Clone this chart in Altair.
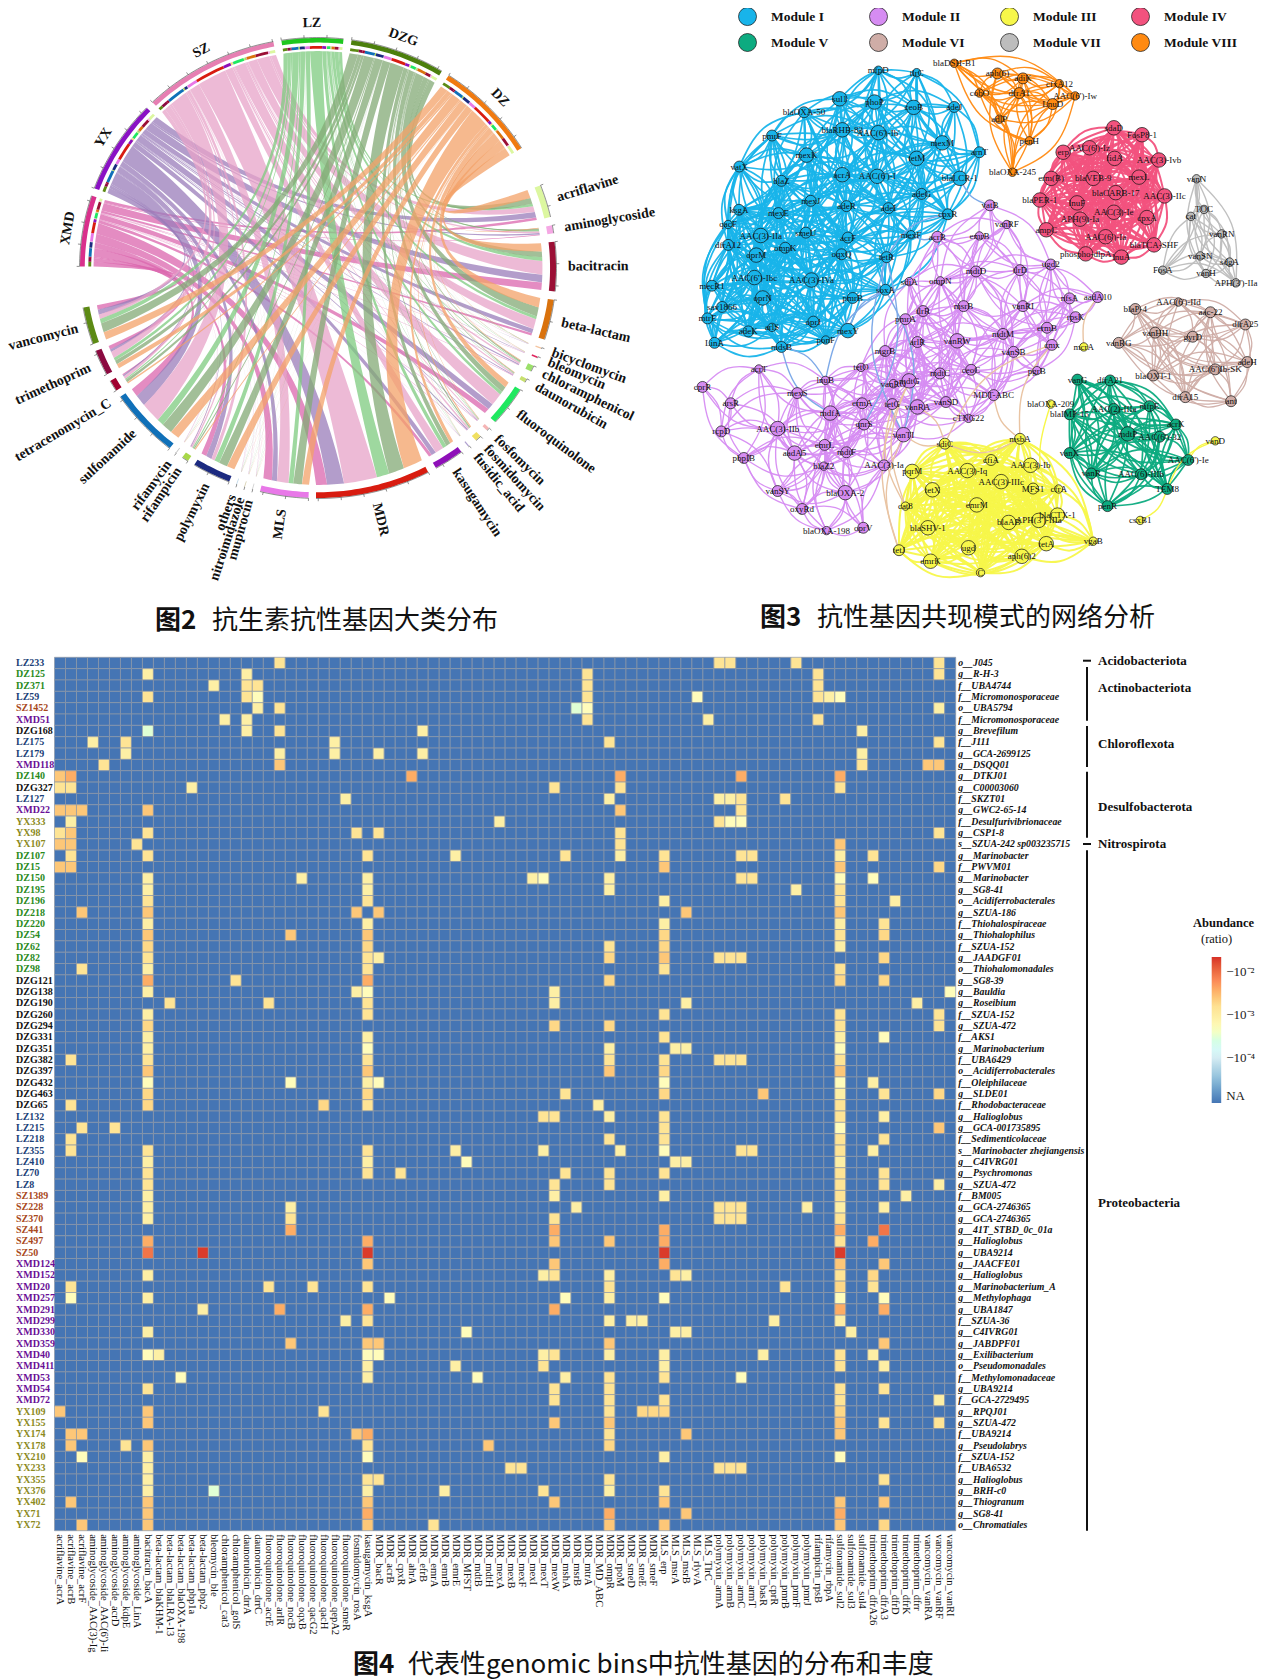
import math
import altair as alt

SERIF = "Liberation Serif"
CJK = "Noto Sans CJK SC"
W, H = 1253, 1671
OFF = 8

# ---------------- Figure 2: chord values ----------------
sites = ["XMD", "YX", "SZ", "LZ", "DZG", "DZ"]
site_widths = [17.9, 23.8, 33.2, 15.0, 23.2, 25.4]
site_colors = ["#d9308c", "#8a12c4", "#e67fb2", "#1fc71f", "#4c7f0d", "#f07a10"]
ribbon_colors = ["#db65ae", "#9a7cba", "#e7a3c8", "#7ecb7f", "#83aa76", "#f3a168"]
cats = ["acriflavine", "aminoglycoside", "bacitracin", "beta-lactam", "bicyclomycin", "bleomycin",
        "chloramphenicol", "daunorubicin", "fluoroquinolone", "fosfomycin", "fosmidomycin", "fusidic_acid",
        "kasugamycin", "MDR", "MLS", "mupirocin", "nitroimidazole", "others", "polymyxin", "rifampicin",
        "rifamycin", "sulfonamide", "tetracenomycin_C", "trimethoprim", "vancomycin"]
cat_colors = ["#dcf7a0", "#f5a8e4", "#9b0f35", "#d9720d", "#f5c5a0", "#e02860", "#9be06a", "#c8e070",
              "#20e860", "#f5b5b5", "#f0e060", "#b0a0d0", "#8e10b8", "#d81c10", "#e878e8", "#d0d0d0",
              "#d8d0b0", "#c0d8e8", "#1c2a80", "#a8d848", "#c0c0c0", "#1070b8", "#a00030", "#8b0a40", "#5c8a14"]
flow_DZ = [2.2, .2, 2.2, 2.5, .05, .05, .2, .1, 1.5, .1, .3, .05, .9, 5, 1.8, .03, .03, .03, 2, .3, .03, 2.4, .4, 1.2, 2]
flow_DZG = [1.6, .4, 1.5, 2.4, .05, .05, .3, .2, 1.5, .1, .3, .05, 1.2, 4, 2.2, .03, .03, .03, 2.2, .3, .03, 2.8, .7, 1, 2.4]
flow_LZ = [.7, .3, 1, .8, .05, .05, .2, .1, .8, .1, .1, .05, 1, 3.2, 1.2, .03, .03, .03, 1.3, .3, .03, 1.8, .3, .8, 1.2]
flow_SZ = [1.5, .5, 3.6, 2.6, .08, .1, .4, .3, 3.2, .25, .4, .05, 2.2, 8.5, 3, .05, .05, .05, .9, .4, .05, 5.2, .7, 1.7, 1.2]
flow_YX = [1.5, .4, 2, 1.2, .05, .1, .3, .2, 1.6, .15, .3, .05, 1.2, 4.3, 1.3, .03, .03, .03, 1.5, .2, .03, 3, .4, .7, 1.3]
flow_XMD = [.7, .2, 2, .6, .03, .05, .1, .1, 1.4, .1, .1, .05, .8, 2.8, 2.2, .03, .03, .03, 1.4, .1, .03, 2.2, .3, 1, 1.2]
flows = {"XMD": flow_XMD, "YX": flow_YX, "SZ": flow_SZ, "LZ": flow_LZ, "DZG": flow_DZG, "DZ": flow_DZ}

CX, CY, RX, RY = 318, 268, 238, 230
ASP = RY / RX
START, BIG_GAP = 270.4, 10.3
SITE_GAP, CAT_GAP_A, CAT_GAP_B = 1.95, 2.1, 1.8
label_nudge = {"tetracenomycin_C": -3.0}
label_radius = {"vancomycin": 1.042}


def pt(a, r):
    t = math.radians(a)
    return [round(r * math.sin(t), 4), round(r * math.cos(t) * ASP, 4)]


def arc(a0, a1, r):
    n = max(2, int(abs(a1 - a0)) + 2)
    return [pt(a0 + (a1 - a0) * i / (n - 1), r) for i in range(n)]


def ring(a0, a1, r0, r1):
    p = arc(a0, a1, r1) + arc(a1, a0, r0)
    return p + [p[0]]


def bez(p0, p1):
    c = [(p0[0] + p1[0]) * 0.12, (p0[1] + p1[1]) * 0.12]
    out = []
    for i in range(1, 24):
        t = i / 24
        out.append([round((1 - t) ** 2 * p0[j] + 2 * t * (1 - t) * c[j] + t * t * p1[j], 4) for j in (0, 1)])
    return out


site_tot = {s: sum(flows[s]) for s in sites}
site_k = {s: w / site_tot[s] for s, w in zip(sites, site_widths)}
cat_tot = {c: sum(flows[s][i] for s in sites) for i, c in enumerate(cats)}
cat_gaps = [CAT_GAP_A if i < 13 else CAT_GAP_B for i in range(len(cats) - 1)]
gap_sum = 5 * SITE_GAP + sum(cat_gaps) + 2 * BIG_GAP
k_cat = (360 - sum(site_widths) - gap_sum) / sum(cat_tot.values())

sec = {}
a = START
for s, w in zip(sites, site_widths):
    sec[s] = (a, a + w)
    a += w + SITE_GAP
a += BIG_GAP - SITE_GAP
for i, c in enumerate(cats):
    sec[c] = (a, a + cat_tot[c] * k_cat)
    a += cat_tot[c] * k_cat + (cat_gaps[i] if i < len(cat_gaps) else 0)

RIN = 0.943
site_seg = {}
seg_features = []
for si, s in enumerate(sites):
    p = sec[s][0]
    for ci in reversed(range(len(cats))):
        w = flows[s][ci] * site_k[s]
        site_seg[(s, ci)] = (p, p + w)
        seg_features.append({"type": "Feature", "properties": {"c": cat_colors[ci]},
                             "geometry": {"type": "Polygon", "coordinates": [ring(p, p + w, 0.953, 0.965)]}})
        p += w
cat_seg = {}
for ci, c in enumerate(cats):
    p = sec[c][0]
    for s in reversed(sites):
        w = flows[s][ci] * k_cat
        cat_seg[(s, ci)] = (p, p + w)
        p += w

ribbons = []
for s in sites:
    for ci in range(len(cats)):
        s0, s1 = site_seg[(s, ci)]
        c0, c1 = cat_seg[(s, ci)]
        poly = arc(s0, s1, RIN) + bez(pt(s1, RIN), pt(c0, RIN)) + arc(c0, c1, RIN) + bez(pt(c1, RIN), pt(s0, RIN))
        poly.append(poly[0])
        ribbons.append({"type": "Feature", "properties": {"site": s},
                        "geometry": {"type": "Polygon", "coordinates": [poly]}})

band_features, tick_features = [], []
for i, name in enumerate(sites + cats):
    a0, a1 = sec[name]
    col = (site_colors + cat_colors)[i]
    inner = 0.98 if name in sites else 0.975
    band_features.append({"type": "Feature", "properties": {"c": col},
                          "geometry": {"type": "Polygon", "coordinates": [ring(a0, a1, inner, 1.0)]}})
    tick_features.append({"type": "Feature", "properties": {},
                          "geometry": {"type": "LineString", "coordinates": arc(a0, a1, 1.002)}})
    t = a0
    while t <= a1 + 0.01:
        tick_features.append({"type": "Feature", "properties": {},
                              "geometry": {"type": "LineString", "coordinates": [pt(t, 1.002), pt(t, 1.014)]}})
        t += 5.5

proj = dict(type="identity", reflectY=True, scale=RX, translate=[CX - OFF, CY - OFF])
ribbon_layer = alt.Chart(alt.Data(values=ribbons)).mark_geoshape(fillOpacity=0.75, strokeWidth=0).encode(
    color=alt.Color("properties.site:N", scale=alt.Scale(domain=sites, range=ribbon_colors), legend=None)
).project(**proj)
seg_layer = alt.Chart(alt.Data(values=seg_features)).mark_geoshape(strokeWidth=0).encode(
    color=alt.Color("properties.c:N", scale=None)).project(**proj)
band_layer = alt.Chart(alt.Data(values=band_features)).mark_geoshape(strokeWidth=0).encode(
    color=alt.Color("properties.c:N", scale=None)).project(**proj)
tick_layer = alt.Chart(alt.Data(values=tick_features)).mark_geoshape(
    filled=False, stroke="#222222", strokeWidth=0.5).project(**proj)

chord_x = alt.Scale(domain=[-1.4, 1.4], range=[CX - OFF - 1.4 * RX, CX - OFF + 1.4 * RX], nice=False)
chord_y = alt.Scale(domain=[-1.4, 1.4], range=[CY - OFF + 1.4 * RX, CY - OFF - 1.4 * RX], nice=False)
lab_left, lab_right, lab_mid = [], [], []
for s in sites:
    m = (sum(sec[s]) / 2) % 360
    p = pt(m, 1.065)
    lab_mid.append({"t": s, "x": p[0], "y": p[1], "rot": (m if m < 90 else m - 360) % 360})
for c in cats:
    m = (sum(sec[c]) / 2) % 360
    rot_side = m - 90 if m < 180 else m - 270
    m = m + label_nudge.get(c, 0.0)
    p = pt(m, label_radius.get(c, 1.05))
    if c in ("MDR", "MLS"):
        p2 = pt(m, 1.125)
        lab_mid.append({"t": c, "x": p2[0], "y": p2[1], "rot": rot_side % 360})
    elif m < 180:
        lab_right.append({"t": c, "x": p[0], "y": p[1], "rot": rot_side % 360})
    else:
        lab_left.append({"t": c, "x": p[0], "y": p[1], "rot": rot_side % 360})


def chord_text(rows, align):
    return alt.Chart(alt.Data(values=rows)).mark_text(
        font=SERIF, fontWeight="bold", fontSize=14, align=align, baseline="middle", color="#111111").encode(
        x=alt.X("x:Q", scale=chord_x, axis=None), y=alt.Y("y:Q", scale=chord_y, axis=None),
        angle=alt.Angle("rot:Q", scale=None), text="t:N")


# ---------------- Figure 3: network ----------------
modules = ["Module I", "Module II", "Module III", "Module IV", "Module V", "Module VI", "Module VII", "Module VIII"]
module_colors = ["#18b4ea", "#d68cf2", "#f7f74a", "#f2527e", "#0dab80", "#cfada7", "#bdbdbd", "#ff8a12"]
nodes_I = [("mfpD", 528, 172, 1), ("tlrC", 630, 178, 1), ("sul1", 425, 242, 3), ("phoP", 518, 250, 3), ("ceoB", 622, 263, 3),
           ("adeJ", 730, 262, 2), ("blaOXA-50", 330, 275, 2), ("blaRHB-83", 432, 318, 3), ("AAC(6')-Ib'", 528, 325, 3),
           ("pmrF", 245, 332, 2), ("mexM", 698, 350, 3), ("arnT", 797, 373, 2), ("mexK", 337, 380, 3), ("tetM", 630, 388, 3),
           ("acrA", 432, 428, 3), ("AAC(6')-I", 525, 432, 3), ("blaLCR-1", 745, 437, 3), ("vatX", 158, 408, 2),
           ("blaZ", 270, 443, 2), ("adeG", 643, 475, 2), ("mexJ", 348, 492, 2), ("adeR", 443, 505, 2), ("adeI", 555, 510, 2),
           ("cpxR", 713, 525, 2), ("ksgA", 157, 514, 2), ("mexE", 262, 522, 2), ("qacF", 128, 550, 1),
           ("AAC(3)-IIa", 215, 577, 3), ("smeU", 335, 570, 2), ("acrF", 447, 582, 2), ("dfrA12", 128, 600, 2),
           ("mexF", 615, 575, 1), ("ompK", 280, 607, 2), ("oprM", 203, 625, 3), ("oqxQ", 430, 623, 2), ("tetR", 550, 630, 2),
           ("AAC(6')-Ibc", 198, 680, 3), ("AAC(3)-IVa", 350, 686, 3), ("mecR1", 85, 700, 2), ("oprN", 220, 730, 3),
           ("pmrB", 460, 730, 2), ("soxA", 547, 710, 2), ("sav1866", 112, 752, 2), ("mtrE", 73, 780, 2), ("oprJ", 355, 788, 2),
           ("mexY", 447, 810, 3), ("adeK", 182, 812, 2), ("arlS", 245, 802, 1), ("ponF", 388, 833, 1), ("LinA", 92, 840, 2),
           ("mdsB", 270, 850, 2)]
nodes_II = [("vatB", 825, 503, 2), ("vanRF", 870, 550, 1), ("acrB", 685, 580, 2), ("emrB", 797, 578, 1), ("sdiA", 610, 690, 1),
            ("ompN", 693, 688, 1), ("mdtD", 788, 665, 2), ("tlrD", 905, 662, 2), ("ugd2", 987, 648, 2), ("tlrR", 647, 762, 2),
            ("msrB", 755, 750, 2), ("vanRI", 913, 750, 2), ("nfsA", 1037, 731, 2), ("aadA10", 1112, 728, 2), ("pmrA", 600, 782, 2),
            ("rpsK", 1053, 777, 2), ("arlR", 632, 838, 2), ("vanRW", 738, 835, 3), ("mdtM", 860, 818, 2), ("ermB", 977, 803, 2),
            ("cmx", 990, 845, 2), ("mgrB", 546, 860, 2), ("vanSB", 888, 862, 2), ("mdtC", 692, 915, 2), ("ceoC", 775, 906, 2),
            ("pgrB", 950, 908, 1), ("tetO", 482, 900, 1), ("lnuB", 387, 932, 1), ("acrT", 210, 904, 1), ("cprR", 60, 948, 2),
            ("mdtG", 610, 933, 3), ("vanRO", 568, 940, 1), ("mexS", 312, 963, 2), ("arsR", 135, 988, 2), ("ermA", 485, 988, 2),
            ("tetG", 565, 990, 2), ("vanRA", 632, 997, 3), ("vanSD", 708, 985, 2), ("MDT-ABC", 835, 968, 2), ("mdfA", 400, 1012, 3),
            ("cTNG22", 768, 1025, 1), ("qnrS", 490, 1040, 2), ("AAC(3)-IIb", 260, 1050, 3), ("rcpD", 110, 1057, 2),
            ("vanTI", 595, 1065, 3), ("emrL", 385, 1090, 2), ("mdtF", 443, 1108, 2), ("aadA5", 305, 1110, 3), ("pbpIB", 170, 1122, 2),
            ("blaZ2", 383, 1142, 1), ("AAC(3)-Ia", 543, 1140, 2), ("vanSY", 260, 1203, 2), ("blaOXA-2", 440, 1207, 3),
            ("oxyRd", 325, 1247, 2), ("blaOXA-198", 390, 1300, 1), ("oprV", 488, 1293, 2)]
nodes_III = [("mcrA", 1075, 850, 1), ("blaOXA-209", 987, 990, 1), ("sdiC", 705, 1087, 2), ("msbA", 905, 1075, 2), ("cfiA", 828, 1127, 2),
             ("pqrM", 618, 1155, 3), ("AAC(3)-Iq", 765, 1153, 3), ("AAC(3)-Ib", 933, 1140, 3), ("AAC(3)-IIIc", 855, 1180, 3),
             ("tetX", 672, 1200, 3), ("MFS1", 940, 1197, 2), ("cfrA", 1008, 1198, 1), ("emrM", 790, 1237, 3), ("cat8", 600, 1240, 1),
             ("blaSHV-1", 660, 1293, 3), ("blaAB", 875, 1280, 3), ("APH(3')-IIIa", 955, 1275, 3), ("blaCTX-1", 1005, 1262, 3),
             ("tetA", 975, 1332, 3), ("vgaB", 1100, 1326, 1), ("ugd", 768, 1342, 3), ("tetJ", 583, 1348, 2), ("emrK", 667, 1375, 3),
             ("aph(6)2", 910, 1363, 3), ("C", 800, 1403, 1), ("vanD", 1425, 1080, 1), ("csxB1", 1225, 1275, 1)]
nodes_IV = [("sdaD", 1155, 313, 3), ("FosP8-1", 1230, 330, 3), ("AAC(6')-Iz", 1090, 362, 3), ("erp", 1020, 373, 3), ("fidA", 1157, 388, 3),
            ("AAC(3)-Ivb", 1275, 392, 3), ("erm(B)", 988, 437, 3), ("blaVEB-9", 1100, 437, 3), ("mexL", 1222, 434, 3),
            ("blaCARB-17", 1160, 472, 3), ("AAC(3)-IIc", 1290, 480, 3), ("blaPER-1", 958, 490, 3), ("lnuF", 1057, 497, 3),
            ("AAC(3)-Ie", 1155, 520, 3), ("cpxA", 1243, 533, 3), ("APH(9)-Ia", 1065, 537, 3), ("ampC", 975, 563, 3),
            ("AAC(6')-Ia", 1133, 580, 3), ("blaTCA-SHF", 1262, 600, 3), ("phospho-dlpA", 1080, 622, 3), ("lnuA", 1175, 630, 3)]
nodes_V = [("vanG", 1058, 930, 2), ("dfrA21", 1145, 932, 2), ("AAC(2)-IIIa", 1155, 1002, 2), ("mfpE", 1250, 995, 2),
           ("blaIMP-15", 1037, 1015, 2), ("acrK", 1320, 1040, 2), ("mdtP", 1192, 1063, 3), ("AAC(6')-32", 1277, 1070, 2),
           ("vanX", 1037, 1110, 2), ("AAC(6')-Ie", 1353, 1127, 2), ("vanR", 1095, 1160, 2), ("AAC(6)-IIIb", 1227, 1162, 2),
           ("TEM8", 1297, 1198, 2), ("penR", 1138, 1240, 2)]
nodes_VI = [("blaP-4", 1212, 757, 2), ("AAC(6')-IId", 1327, 740, 1), ("aac-22", 1412, 765, 2), ("dfrA25", 1505, 795, 2), ("vanHH", 1265, 815, 2),
            ("gyrD", 1365, 825, 2), ("vanRG", 1168, 840, 2), ("adeH", 1510, 887, 2), ("blaOXT-1", 1260, 920, 2),
            ("AAC(6')Ib-SK", 1425, 905, 2), ("dfrA15", 1345, 973, 2), ("ant", 1467, 983, 2)]
nodes_VII = [("vanN", 1375, 438, 1), ("TOC", 1395, 513, 1), ("cat", 1360, 530, 1), ("vanRN", 1442, 573, 1), ("vanSN", 1385, 627, 1),
             ("sdgA", 1463, 642, 1), ("FosA", 1285, 662, 1), ("vanH", 1400, 670, 1), ("APH(3')-IIa", 1480, 693, 1)]
nodes_VIII = [("blaDSH-B1", 730, 155, 1), ("aph(6)", 845, 180, 2), ("adiK", 913, 192, 2), ("cfxA12", 1010, 205, 1), ("cobO", 797, 228, 1),
              ("dfrA1", 903, 228, 2), ("AAC(6')-Iw", 1052, 235, 1), ("LnuD", 992, 255, 2), ("adlP", 850, 292, 1), ("penH", 930, 345, 1),
              ("blaOXA-245", 885, 422, 1)]
node_groups = [nodes_I, nodes_II, nodes_III, nodes_IV, nodes_V, nodes_VI, nodes_VII, nodes_VIII]
link_reach = [300, 240, 420, 600, 420, 350, 500, 400]
link_width = [1.7, 1.35, 2.0, 2.0, 1.7, 1.3, 1.4, 1.4]
outlying_nodes = {"mcrA", "blaOXA-209", "vanD", "csxB1"}
periwinkle_links = [("tetR", "soxA"), ("tetR", "vanTI"), ("soxA", "lnuB"), ("mdsB", "mdfA"), ("blaLCR-1", "vatB"), ("mexF", "acrB"),
                    ("lnuB", "mdsB"), ("soxA", "mexY"), ("soxA", "sdiA"), ("cpxR", "tetR"), ("qnrS", "tetR"), ("vanTI", "soxA")]
beige_links = [("vanTI", "sdiC"), ("sdiC", "msbA"), ("cmx", "msbA"), ("MDT-ABC", "msbA"), ("mdtG", "cat8"), ("vanTI", "tetJ"),
               ("aadA10", "mcrA"), ("sdiC", "vanRA"), ("cmx", "sdiC"), ("mdtG", "tetJ"), ("tetG", "cat8")]
yellow_links = [("vanD", "AAC(6')-Ie"), ("csxB1", "TEM8"), ("blaOXA-209", "blaCTX-1"), ("vanD", "TEM8")]

node_rows = []
pos = {}
for m, grp in zip(modules, node_groups):
    for name, x, y, tier in grp:
        node_rows.append({"name": name, "x": x, "y": y, "module": m, "d": {1: 70, 2: 120, 3: 210}[tier]})
        pos[name] = (x, y)


def curve_rows(eid, p, q, bend, **extra):
    dx, dy = q[0] - p[0], q[1] - p[1]
    mid = ((p[0] + q[0]) / 2 - dy * bend, (p[1] + q[1]) / 2 + dx * bend)
    return [dict(e=eid, i=i, x=c[0], y=c[1], **extra) for i, c in enumerate((p, mid, q))]


edge_rows = {w: [] for w in set(link_width)}
eid = 0
for mi, (m, grp) in enumerate(zip(modules, node_groups)):
    for i in range(len(grp)):
        for j in range(i + 1, len(grp)):
            if grp[i][0] in outlying_nodes or grp[j][0] in outlying_nodes:
                continue
            p, q = grp[i][1:3], grp[j][1:3]
            if math.dist(p, q) <= link_reach[mi]:
                bend = 0.16 if (i + j) % 2 else -0.16
                edge_rows[link_width[mi]] += curve_rows(eid, p, q, bend, module=m)
                eid += 1
cross_rows = []
for col, links in (("#7eaae8", periwinkle_links), ("#e9c4a3", beige_links), ("#f7f74a", yellow_links)):
    for u, v in links:
        cross_rows += curve_rows(eid, pos[u], pos[v], 0.14, col=col)
        eid += 1

net_x = alt.Scale(domain=[0, 1568], range=[672, 1261], nice=False)
net_y = alt.Scale(domain=[0, 1568], range=[-8, 632], nice=False)
mod_scale = alt.Scale(domain=modules, range=module_colors)


def edge_layer(rows, width):
    return alt.Chart(alt.Data(values=rows)).mark_line(interpolate="natural", strokeWidth=width, opacity=0.95).encode(
        x=alt.X("x:Q", scale=net_x, axis=None), y=alt.Y("y:Q", scale=net_y, axis=None),
        detail="e:N", order=alt.Order("i:Q"),
        color=alt.Color("module:N", scale=mod_scale, legend=None))


cross_layer = alt.Chart(alt.Data(values=cross_rows)).mark_line(interpolate="natural", strokeWidth=1.4).encode(
    x=alt.X("x:Q", scale=net_x, axis=None), y=alt.Y("y:Q", scale=net_y, axis=None),
    detail="e:N", order=alt.Order("i:Q"), color=alt.Color("col:N", scale=None))
node_layer = alt.Chart(alt.Data(values=node_rows)).mark_point(
    filled=True, opacity=1, stroke="#111111", strokeWidth=0.7, shape="circle").encode(
    x=alt.X("x:Q", scale=net_x, axis=None), y=alt.Y("y:Q", scale=net_y, axis=None),
    size=alt.Size("d:Q", scale=None),
    color=alt.Color("module:N", scale=mod_scale, legend=alt.Legend(
        orient="none", direction="horizontal", legendX=730, legendY=-1, columns=4, title=None, symbolType="circle", symbolSize=324,
        symbolStrokeColor="#111111", symbolStrokeWidth=0.7, labelFont=SERIF, labelFontWeight="bold", labelFontSize=13.5,
        labelColor="#111111", labelOffset=14, columnPadding=23, rowPadding=5, gridAlign="all", labelLimit=120)))
node_text = alt.Chart(alt.Data(values=node_rows)).mark_text(
    font=SERIF, fontSize=9, color="#111111", align="center", baseline="middle").encode(
    x=alt.X("x:Q", scale=net_x, axis=None), y=alt.Y("y:Q", scale=net_y, axis=None), text="name:N")

# ---------------- Figure 4: heatmap ----------------
bins = ["LZ233", "DZ125", "DZ371", "LZ59", "SZ1452", "XMD51", "DZG168", "LZ175", "LZ179", "XMD118", "DZ140", "DZG327", "LZ127", "XMD22",
        "YX333", "YX98", "YX107", "DZ107", "DZ15", "DZ150", "DZ195", "DZ196", "DZ218", "DZ220", "DZ54", "DZ62", "DZ82", "DZ98", "DZG121",
        "DZG138", "DZG190", "DZG260", "DZG294", "DZG331", "DZG351", "DZG382", "DZG397", "DZG432", "DZG463", "DZG65", "LZ132", "LZ215",
        "LZ218", "LZ355", "LZ410", "LZ70", "LZ8", "SZ1389", "SZ228", "SZ370", "SZ441", "SZ497", "SZ50", "XMD124", "XMD152", "XMD20",
        "XMD257", "XMD291", "XMD299", "XMD330", "XMD359", "XMD40", "XMD411", "XMD53", "XMD54", "XMD72", "YX109", "YX155", "YX174",
        "YX178", "YX210", "YX233", "YX355", "YX376", "YX402", "YX71", "YX72"]
taxa = ["o__J045", "g__R-H-3", "f__UBA4744", "f__Micromonosporaceae", "o__UBA5794", "f__Micromonosporaceae", "g__Brevefilum", "f__J111",
        "g__GCA-2699125", "g__DSQQ01", "g__DTKJ01", "g__C00003060", "f__SKZT01", "g__GWC2-65-14", "f__Desulfurivibrionaceae", "g__CSP1-8",
        "s__SZUA-242 sp003235715", "g__Marinobacter", "f__PWVM01", "g__Marinobacter", "g__SG8-41", "o__Acidiferrobacterales", "g__SZUA-186",
        "f__Thiohalospiraceae", "g__Thiohalophilus", "f__SZUA-152", "g__JAADGF01", "o__Thiohalomonadales", "g__SG8-39", "g__Bauldia",
        "g__Roseibium", "f__SZUA-152", "g__SZUA-472", "f__AKS1", "g__Marinobacterium", "f__UBA6429", "o__Acidiferrobacterales",
        "f__Oleiphilaceae", "g__SLDE01", "f__Rhodobacteraceae", "g__Halioglobus", "g__GCA-001735895", "f__Sedimenticolaceae",
        "s__Marinobacter zhejiangensis", "g__C4IVRG01", "g__Psychromonas", "g__SZUA-472", "f__BM005", "g__GCA-2746365", "g__GCA-2746365",
        "g__41T_STBD_0c_01a", "g__Halioglobus", "g__UBA9214", "g__JAACFE01", "g__Halioglobus", "g__Marinobacterium_A", "g__Methylophaga",
        "g__UBA1847", "f__SZUA-36", "g__C4IVRG01", "g__JABDPF01", "g__Exilibacterium", "o__Pseudomonadales", "f__Methylomonadaceae",
        "g__UBA9214", "f__GCA-2729495", "g__RPQJ01", "g__SZUA-472", "f__UBA9214", "g__Pseudolabrys", "f__SZUA-152", "f__UBA6532",
        "g__Halioglobus", "g__BRH-c0", "g__Thiogranum", "g__SG8-41", "o__Chromatiales"]
genes = ["acriflavine_acrA", "acriflavine_acrB", "acriflavine_acrF", "aminoglycoside_AAC(3)-Ig", "aminoglycoside_AAC(6')-Ii",
         "aminoglycoside_acrD", "aminoglycoside_kdpE", "aminoglycoside_LinA", "bacitracin_bacA", "beta-lactam_blaKHM-1",
         "beta-lactam_blaLRA-13", "beta-lactam_blaOXA-198", "beta-lactam_pbp1a", "beta-lactam_pbp2", "bleomycin_ble",
         "chloramphenicol_cat3", "chloramphenicol_golS", "daunorubicin_drrA", "daunorubicin_drrC", "fluoroquinolone_acrE",
         "fluoroquinolone_arlR", "fluoroquinolone_nocB", "fluoroquinolone_oqxB", "fluoroquinolone_qacG2", "fluoroquinolone_qacH",
         "fluoroquinolone_qepA2", "fluoroquinolone_smeR", "fosmidomycin_rosA", "kasugamycin_ksgA", "MDR_bacR", "MDR_acrB", "MDR_cpxR",
         "MDR_ahrA", "MDR_efrB", "MDR_emrA", "MDR_emrB", "MDR_emrE", "MDR_MFST", "MDR_mdtB", "MDR_mdtH", "MDR_mexA", "MDR_mexB",
         "MDR_mexF", "MDR_mexI", "MDR_mexT", "MDR_mexW", "MDR_mshA", "MDR_msrB", "MDR_mtrA", "MDR_MD_ABC", "MDR_ompR", "MDR_rpoM",
         "MDR_smeD", "MDR_smeE", "MDR_smeF", "MLS_erp", "MLS_msrA", "MLS_msrB", "MLS_rlyvA", "MLS_TlrC", "polymyxin_armA", "polymyxin_armB",
         "polymyxin_armC", "polymyxin_armT", "polymyxin_basR", "polymyxin_cprR", "polymyxin_pmrB", "polymyxin_pmrF", "polymyxin_pmrJ",
         "rifampicin_rpsB", "rifamycin_rbpA", "sulfonamide_sul2", "sulfonamide_sul3", "sulfonamide_sul4", "trimethoprim_dfrA26",
         "trimethoprim_dfrA3", "trimethoprim_dfrD", "trimethoprim_dfrK", "trimethoprim_dfrr", "vancomycin_vanRA", "vancomycin_vanRF",
         "vancomycin_vanRI"]
levels = {"p": -3.5, "a": -3.3, "b": -3.05, "c": -2.85, "h": -2.72, "d": -2.6, "e": -2.42, "f": -2.05, "g": -1.7}
NA_VALUE = -5.05
present = ["20c 60c 61c 67c 80c", "8b 17b 48c 69c 80c", "14b 17c 18c 48c 69c", "8c 17c 18a 48c 58a 69c 70b 71a", "18b 20c 47p 48a 80b",
           "15b 17b 48c 59b 69c", "8p 17b 20c 33b 73b", "3b 6c 25b 50c 80c", "6b 20b 25b 29b 33b 73b", "4c 20d 73c 79d 80d",
           "0d 1e 32e 51e 62e 71e", "0c 1c 12b 45c 51c 71c", "26b 50b 60b 61b 62c 66c", "0d 1d 2d 8d 51d 62c", "1b 40b 60c 61a 62a",
           "0c 1d 8c 27c 29c 51c 80c", "0d 1d 7c 51c 71d", "1c 8c 28c 36b 46c 51b 55c 62c 63c 71b 74c", "0d 1d 55d 71d 80h",
           "8b 22b 28b 43b 44a 50b 62c 63c 71a 74a", "8b 28b 50b 67b 71c", "8c 28c 55b 71c 76b", "2d 8d 27d 29d 57d 71d", "8b 28b 55b 71b 75c",
           "8d 21d 28d 55h 71c 75h", "8h 28h 50c 55h 71b", "8c 28c 29b 50h 55d 60c 61c 62c 75h", "2c 8b 28c 55c 71c", "8e 16c 28e 50h 71h 75h",
           "8b 27b 28a 45b 81a", "10c 19c 28c 45b 57b 78b", "8b 28c 55c 71c 80c", "8h 45h 50h 71c 80c", "8b 28b 55c 71b 75a",
           "8b 28a 50b 56b 57b 71a", "1c 8c 28c 50c 55c 60c 61c 62c 71c", "8d 28d 50d 55h 71d", "8a 21a 28b 29a 55a 71a 74b",
           "8h 28h 46c 55h 64d 71b 75c 80h", "1c 8h 24h 28c 49b 71c", "44c 45c 50b 55c 71c 75b", "2c 5c 55c 71a 80d", "1c 50c 55c 71c 75c",
           "1c 8c 28c 36b 44b 51b 55a 62c 63c 71c 74b", "8b 28b 37a 56b 57b 71b", "8c 28c 31c 46c 50c 55c 71c 75c", "8c 45c 50c 71c 75c 80b",
           "8b 45b 55b 71c 77b", "8b 21b 47b 60c 61c 62c 68b 71b 75b", "8b 21c 45c 60c 61c 62c 71c", "21e 45e 55e 71e 75f",
           "8e 28e 45d 50d 55e 71c 74e", "8f 13g 28g 55g 71g", "28d 45d 55e 71d 75d", "8b 44b 45c 50b 56c 57b 71c 74h",
           "1c 19c 23c 28c 50c 66c 71h 74c", "1a 8b 30a 46a 50b 55a 71a 75a", "13b 20e 28e 45e 71e 75e", "26b 28c 50b 52b 53b 65b 71b",
           "8b 37a 56b 57b 72b", "21d 28d 29d 50d 75d", "8a 9b 28a 29a 44b 45c 50b 55b 64b 71c 74b", "28b 36b 44c 55b 71c 75b",
           "11a 28b 38a 46b 50c 55c 62a", "8c 45c 50c 71c 75c", "45c 50c 55c 71c 80b", "0d 8d 24c 50c 53h 54h 55h 71h", "8d 45d 50d 71d 75c 80c",
           "1d 2d 27d 28e 50c 57d 71d", "1d 6c 8d 28c 39d 50h", "2a 8b 28a 55b 71a", "8b 41c 42c 60c 61c 62c", "8b 28c 29c 50c 75c",
           "8b 14p 28b 35b 44c 50b 55c", "1d 8d 28d 45d 55d 71d 75d", "8d 28e 50e 57d 71e", "2d 8d 28d 34c 50d 55d 71d 75h"]

cell_rows = []
for b, spec in zip(bins, present):
    vals = {int(tok[:-1]): levels[tok[-1]] for tok in spec.split()}
    for gi, g in enumerate(genes):
        cell_rows.append({"bin": b, "gene": g, "v": vals.get(gi, NA_VALUE)})

HX0, HX1 = 54.5 - OFF, 955.7 - OFF
HY0, HY1 = 657.3 - OFF, 1530.7 - OFF
row_scale = alt.Scale(domain=bins, range=[HY0, HY1], paddingInner=0, paddingOuter=0)
bin_color = ("indexof(datum.label,'DZG')==0?'#111111':indexof(datum.label,'DZ')==0?'#2a8a1c':"
             "indexof(datum.label,'LZ')==0?'#1c3f78':indexof(datum.label,'SZ')==0?'#a8481c':"
             "indexof(datum.label,'XMD')==0?'#6a0f96':'#8c8a1c'")
heat_stops = [-5.05, -4.48, -3.92, -3.35, -2.78, -2.22, -1.65]
heat_colors = ["#4575b4", "#91bfdb", "#e0f3f8", "#ffffbf", "#fee090", "#fc8d59", "#d73027"]
heat_layer = alt.Chart(alt.Data(values=cell_rows)).mark_rect(stroke="#8e98a6", strokeWidth=0.7).encode(
    x=alt.X("gene:N", sort=genes, title=None,
            scale=alt.Scale(domain=genes, range=[HX0, HX1], paddingInner=0, paddingOuter=0),
            axis=alt.Axis(orient="bottom", offset=-(H - HY1), labelAngle=90, labelAlign="left", labelBaseline="middle",
                          labelFont=SERIF, labelFontSize=10.5, labelColor="#111111", ticks=False, domain=False, grid=False,
                          labelPadding=3, labelOverlap=False, labelLimit=200, labelBound=False, title=None)),
    y=alt.Y("bin:N", sort=bins, title=None, scale=row_scale,
            axis=alt.Axis(orient="left", offset=-HX0, labelAlign="left", labelBaseline="middle", labelFont=SERIF,
                          labelFontWeight="bold", labelFontSize=10, labelColor={"expr": bin_color}, ticks=False,
                          domain=False, grid=False, labelPadding=39, labelOverlap=False, labelBound=False, title=None)),
    color=alt.Color("v:Q", scale=alt.Scale(domain=heat_stops, range=heat_colors), legend=alt.Legend(
        orient="none", legendX=1203.7, legendY=949, title=None, gradientLength=146, gradientThickness=9.5, direction="vertical",
        values=[-5.05, -4, -3, -2], labelFont=SERIF, labelFontSize=13, labelColor="#222222", labelOffset=5,
        labelExpr="datum.value<-4.5?'NA':datum.value<-3.5?'\u221210\u207b\u2074':datum.value<-2.5?'\u221210\u207b\u00b3':'\u221210\u207b\u00b2'")))

taxa_rows = [{"bin": b, "t": t} for b, t in zip(bins, taxa)]
taxa_layer = alt.Chart(alt.Data(values=taxa_rows)).mark_text(
    font=SERIF, fontStyle="italic", fontWeight="bold", fontSize=9.8, align="left", baseline="middle", color="#111111").encode(
    x=alt.value(958.3 - OFF), y=alt.Y("bin:N", sort=bins, scale=row_scale, axis=None), text="t:N")

phyla = ["Acidobacteriota", "Actinobacteriota", "Chloroflexota", "Desulfobacterota", "Nitrospirota", "Proteobacteria"]
phyla_text_row = [0.3, 2.7, 7.65, 13.2, 16.46, 48.1]
phyla_start = [None, 0.85, 6.06, 10.1, None, 17.0]
phyla_end = [None, 5.6, 9.67, 15.9, None, 77.0]
row_linear = alt.Scale(domain=[0, 77], range=[HY0, HY1], nice=False)
phy_rows = [{"t": t, "r": r} for t, r in zip(phyla, phyla_text_row)]
phy_text = alt.Chart(alt.Data(values=phy_rows)).mark_text(
    font=SERIF, fontWeight="bold", fontSize=13, align="left", baseline="middle", color="#111111").encode(
    x=alt.value(1098 - OFF), y=alt.Y("r:Q", scale=row_linear, axis=None), text="t:N")
span_rows = [{"a": a, "b": b} for a, b in zip(phyla_start, phyla_end) if a is not None]
phy_span = alt.Chart(alt.Data(values=span_rows)).mark_rule(color="#111111", strokeWidth=2).encode(
    x=alt.value(1087 - OFF), y=alt.Y("a:Q", scale=row_linear, axis=None), y2="b:Q")
dash_rows = [{"r": r} for r, a in zip(phyla_text_row, phyla_start) if a is None]
phy_dash = alt.Chart(alt.Data(values=dash_rows)).mark_rule(color="#111111", strokeWidth=2).encode(
    x=alt.value(1083 - OFF), x2=alt.value(1091 - OFF), y=alt.Y("r:Q", scale=row_linear, axis=None))

# ---------------- Free text ----------------
cap_bold = [{"t": "\u56fe2", "x": 155 - OFF, "y": 621 - OFF}, {"t": "\u56fe3", "x": 760 - OFF, "y": 618 - OFF},
            {"t": "\u56fe4", "x": 353 - OFF, "y": 1665 - OFF}]
cap_reg = [{"t": "\u6297\u751f\u7d20\u6297\u6027\u57fa\u56e0\u5927\u7c7b\u5206\u5e03", "x": 212 - OFF, "y": 621 - OFF},
           {"t": "\u6297\u6027\u57fa\u56e0\u5171\u73b0\u6a21\u5f0f\u7684\u7f51\u7edc\u5206\u6790", "x": 817 - OFF, "y": 618 - OFF},
           {"t": "\u4ee3\u8868\u6027genomic bins\u4e2d\u6297\u6027\u57fa\u56e0\u7684\u5206\u5e03\u548c\u4e30\u5ea6", "x": 408 - OFF, "y": 1665 - OFF}]


def free_text(rows, **kw):
    return alt.Chart(alt.Data(values=rows)).mark_text(align="left", baseline="middle", color="#111111", **kw).encode(
        x=alt.X("x:Q", scale=None), y=alt.Y("y:Q", scale=None), text="t:N")


bold_caps = free_text(cap_bold, font=CJK, fontWeight="bold", fontSize=26)
reg_caps = free_text(cap_reg, font=CJK, fontWeight="normal", fontSize=26)
legend_title = free_text([{"t": "Abundance", "x": 1193 - OFF, "y": 923 - OFF}], font=SERIF, fontWeight="bold", fontSize=12.5)
legend_sub = free_text([{"t": "(ratio)", "x": 1201 - OFF, "y": 939 - OFF}], font=SERIF, fontSize=12.5)

layers = [heat_layer, taxa_layer, phy_span, phy_dash, phy_text,
          ribbon_layer, seg_layer, band_layer, tick_layer,
          chord_text(lab_left, "right"), chord_text(lab_right, "left"), chord_text(lab_mid, "center")]
layers += [edge_layer(rows, w) for w, rows in edge_rows.items()]
layers += [cross_layer, node_layer, node_text, bold_caps, reg_caps, legend_title, legend_sub]

chart = alt.layer(*layers).resolve_scale(
    x="independent", y="independent", color="independent", size="independent", angle="independent"
).resolve_axis(x="independent", y="independent").properties(
    width=W, height=H, padding=0, autosize=alt.AutoSizeParams(type="none"), background="white"
).configure_view(stroke=None)

chart.save("out.html", embed_options={"renderer": "svg", "actions": False})
